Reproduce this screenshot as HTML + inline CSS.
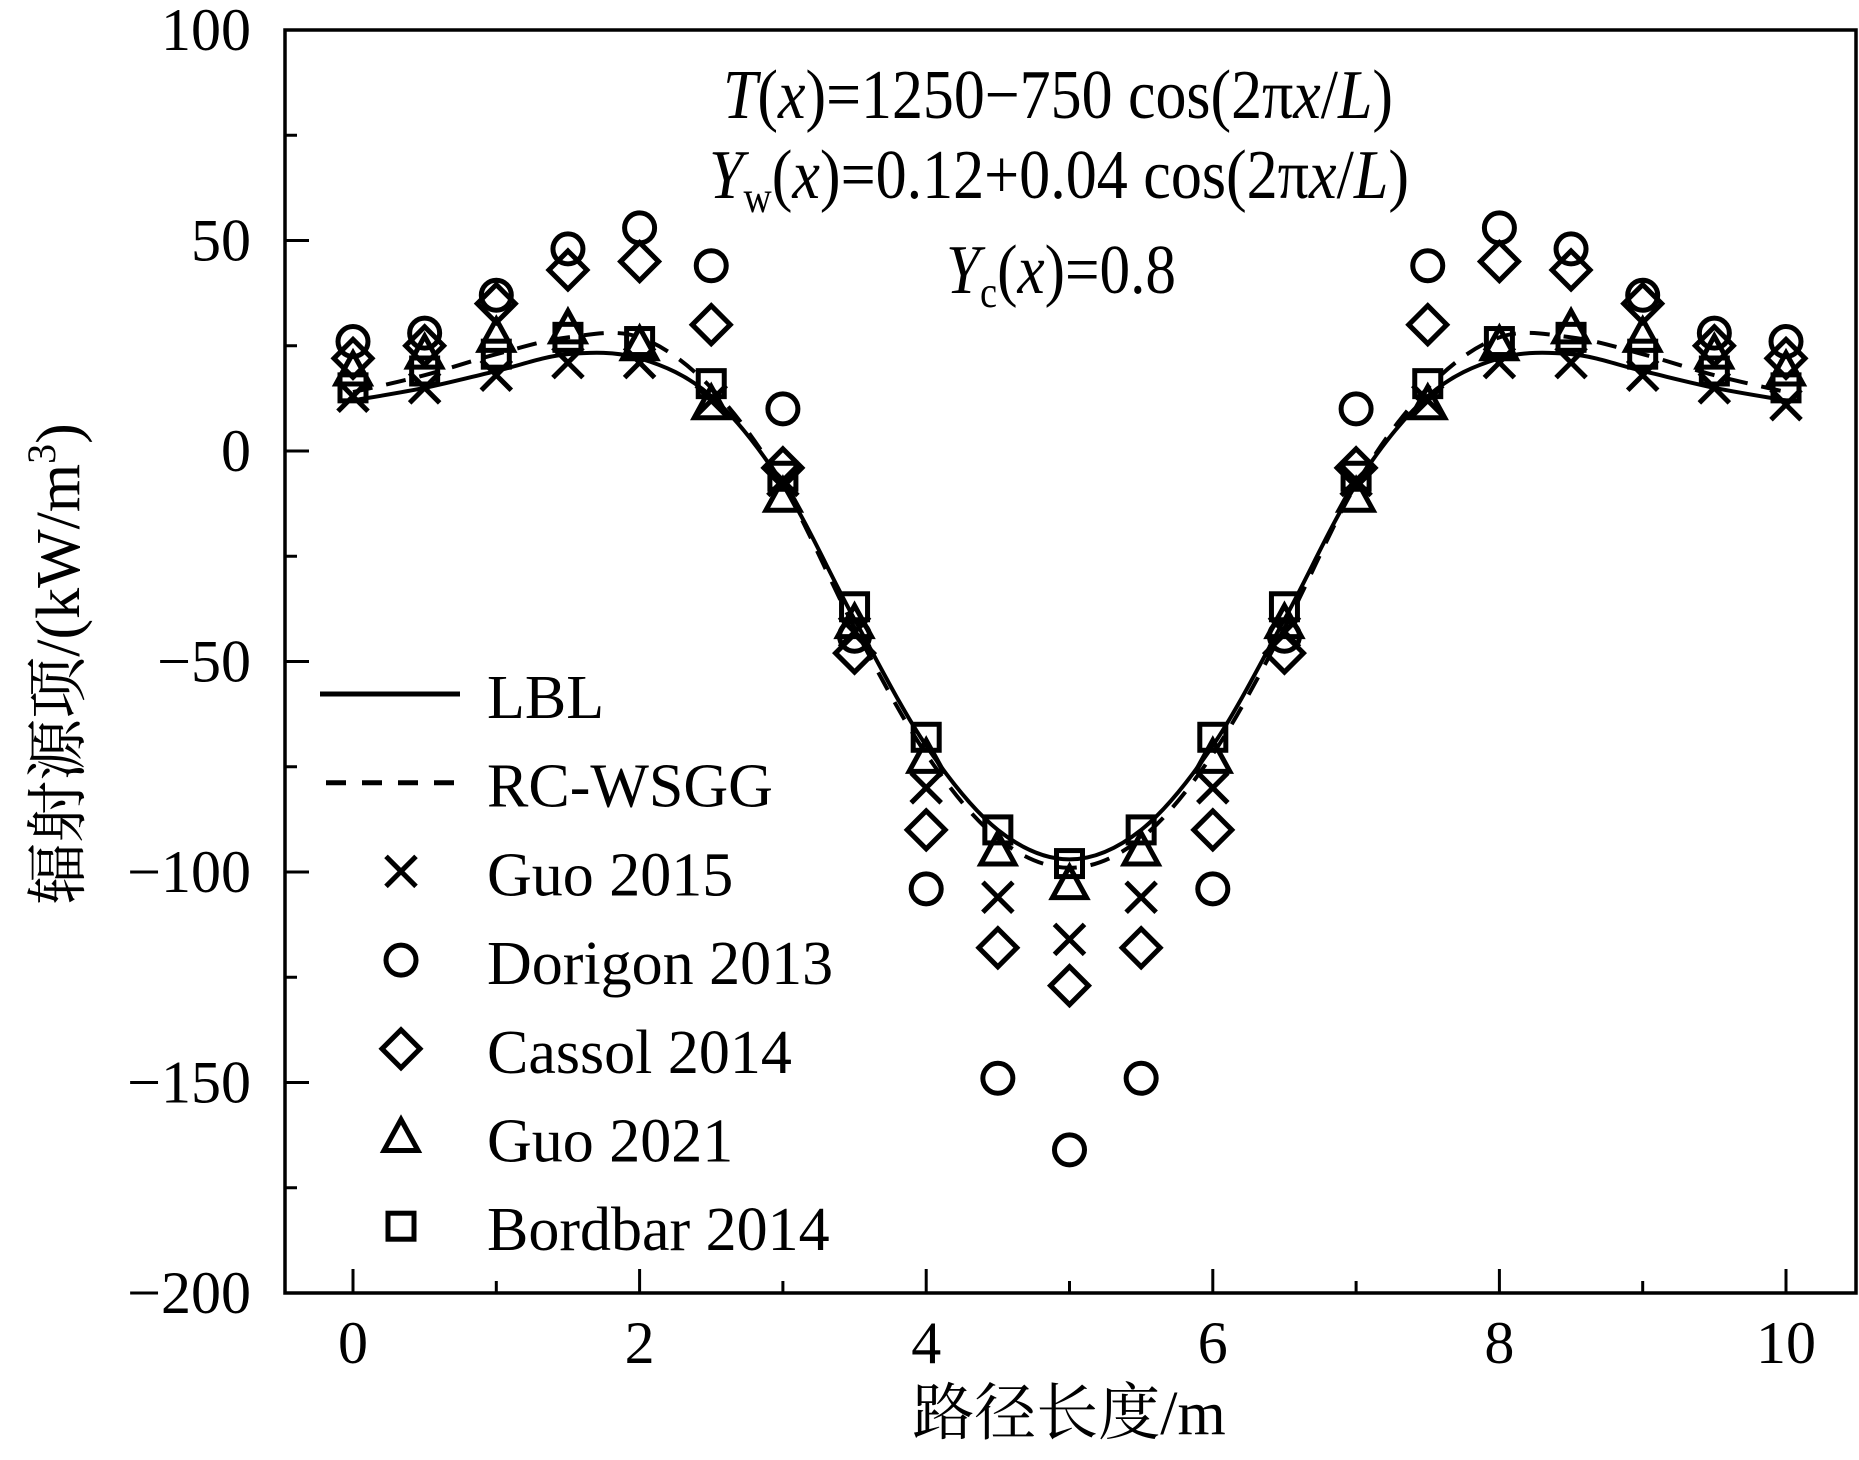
<!DOCTYPE html>
<html><head><meta charset="utf-8"><style>
html,body{margin:0;padding:0;background:#fff;}
svg{display:block;}
text{font-family:"Liberation Serif","Noto Serif CJK SC",serif;fill:#000;}
</style></head><body>
<svg id="chart" width="1859" height="1460" viewBox="0 0 1859 1460" xmlns="http://www.w3.org/2000/svg">
<g id="axes"></g>
<g id="series"></g>
<g>
<text x="723" y="118" font-size="70" textLength="670" lengthAdjust="spacingAndGlyphs"><tspan font-style="italic">T</tspan>(<tspan font-style="italic">x</tspan>)=1250−750 cos(2π<tspan font-style="italic">x</tspan>/<tspan font-style="italic">L</tspan>)</text>
<text x="709" y="198" font-size="70" textLength="700" lengthAdjust="spacingAndGlyphs"><tspan font-style="italic">Y</tspan><tspan font-size="44" dy="14">w</tspan><tspan dy="-14">(</tspan><tspan font-style="italic">x</tspan>)=0.12+0.04 cos(2π<tspan font-style="italic">x</tspan>/<tspan font-style="italic">L</tspan>)</text>
<text x="946" y="293" font-size="70" textLength="230" lengthAdjust="spacingAndGlyphs"><tspan font-style="italic">Y</tspan><tspan font-size="44" dy="14">c</tspan><tspan dy="-14">(</tspan><tspan font-style="italic">x</tspan>)=0.8</text>
</g>
<g id="legend"></g>
</svg>
<script>
const xs = [0,0.5,1,1.5,2,2.5,3,3.5,4,4.5,5,5.5,6,6.5,7,7.5,8,8.5,9,9.5,10];
const lbl = [12,15,19,23,22,13,-8,-40,-70,-90,-97,-90,-70,-40,-8,13,22,23,19,15,12];
const rcwsgg = [14,18,23,27,27,15,-8,-42,-72,-92,-99,-92,-72,-42,-8,15,27,27,23,18,14];
const guo2015 = [13,15,18,21,21,12,-7,-43,-80,-106,-116,-106,-80,-43,-7,12,21,21,18,15,11];
const dorigon2013 = [26,28,37,48,53,44,10,-44,-104,-149,-166,-149,-104,-44,10,44,53,48,37,28,26];
const cassol2014 = [22,25,35,43,45,30,-4,-48,-90,-118,-127,-118,-90,-48,-4,30,45,43,35,25,22];
const guo2021 = [19,23,27,29,25,11,-11,-41,-73,-95,-103,-95,-73,-41,-11,11,25,29,27,23,19];
const bordbar2014 = [15,19,23,27,26,16,-6,-37,-68,-90,-98,-90,-68,-37,-6,16,26,27,23,19,15];
const xTicks = [0,2,4,6,8,10];
const xTickLabels = ["0","2","4","6","8","10"];
const yTicks = [100,50,0,-50,-100,-150,-200];
const yTickLabels = ["100","50","0","−50","−100","−150","−200"];

const NS="http://www.w3.org/2000/svg";
const L=285,R=1856,T=30,B=1293;
const X=v=>353+(v-0)*(1786-353)/10;
const Y=v=>T+(100-v)*(B-T)/300;
function mk(tag,attrs,parent){const e=document.createElementNS(NS,tag);for(const k in attrs)e.setAttribute(k,attrs[k]);parent.appendChild(e);return e;}
const axes=document.getElementById('axes');
const frame=mk('rect',{x:L,y:T,width:R-L,height:B-T,fill:'none',stroke:'#000','stroke-width':3.5},axes);


for(let v=0;v<=10;v+=1){
  const maj=v%2===0;
  const t=mk('line',{x1:X(v),x2:X(v),y1:B,y2:B-(maj?24:12),stroke:'#000','stroke-width':3},axes);
  
  
}
for(let v=-200;v<=100;v+=25){
  const maj=v%50===0;
  const t=mk('line',{x1:L,x2:L+(maj?24:12),y1:Y(v),y2:Y(v),stroke:'#000','stroke-width':3},axes);
  
  
}
xTicks.forEach((v,i)=>{
  const t=mk('text',{x:X(v),y:1363,'font-size':60,'text-anchor':'middle'},axes);
  t.textContent=xTickLabels[i];
  
  
});
yTicks.forEach((v,i)=>{
  const t=mk('text',{x:251,y:Y(v)+20,'font-size':60,'text-anchor':'end'},axes);
  t.textContent=yTickLabels[i];
  
  
});
const xt=mk('text',{x:1069,y:1434,'font-size':62,'text-anchor':'middle'},axes);
xt.textContent='路径长度/m';


const yt=mk('text',{x:0,y:0,'font-size':62,'text-anchor':'middle',transform:'translate(79,664) rotate(-90)'},axes);
yt.innerHTML='辐射源项/(kW/m<tspan font-size="40" dy="-24">3</tspan><tspan dy="24">)</tspan>';



const ser=document.getElementById('series');
function smooth(vals){
  const p=vals.map((v,i)=>[X(xs[i]),Y(v)]);let d='M'+p[0][0]+' '+p[0][1];
  for(let i=0;i<p.length-1;i++){const p0=p[i-1]||p[i],p1=p[i],p2=p[i+1],p3=p[i+2]||p2;
    d+=` C${p1[0]+(p2[0]-p0[0])/6} ${p1[1]+(p2[1]-p0[1])/6} ${p2[0]-(p3[0]-p1[0])/6} ${p2[1]-(p3[1]-p1[1])/6} ${p2[0]} ${p2[1]}`;}
  return d;}
const lbll=mk('path',{d:smooth(lbl),fill:'none',stroke:'#000','stroke-width':4},ser);


const rcl=mk('path',{d:smooth(rcwsgg),fill:'none',stroke:'#000','stroke-width':4,'stroke-dasharray':'20 14'},ser);



function marker(type,cx,cy,g){
  const s={fill:'none',stroke:'#000','stroke-width':5};
  let e;
  if(type==='x'){e=mk('path',Object.assign({d:`M${cx-15} ${cy-15}L${cx+15} ${cy+15}M${cx-15} ${cy+15}L${cx+15} ${cy-15}`},s),g);}
  else if(type==='o'){e=mk('circle',Object.assign({cx:cx,cy:cy,r:15},s),g);}
  else if(type==='d'){e=mk('path',Object.assign({d:`M${cx} ${cy-19}L${cx+19} ${cy}L${cx} ${cy+19}L${cx-19} ${cy}Z`},s),g);}
  else if(type==='t'){e=mk('path',Object.assign({d:`M${cx} ${cy-18}L${cx+17} ${cy+13}L${cx-17} ${cy+13}Z`},s),g);}
  else {e=mk('rect',Object.assign({x:cx-13,y:cy-13,width:26,height:26,fill:'#fff'},s),g);}
  return e;
}
const scatter=[['dorigon-2013',dorigon2013,'o'],['cassol-2014',cassol2014,'d'],['guo-2015',guo2015,'x'],['guo-2021',guo2021,'t'],['bordbar-2014',bordbar2014,'s']];
scatter.forEach(([name,vals,type])=>{
  const g=mk('g',{},ser);
  
  
  vals.forEach((v,i)=>{
    const m=marker(type,X(xs[i]),Y(v),g);
    
    
  });
});

const leg=document.getElementById('legend');
const items=[['LBL','line'],['RC-WSGG','dash'],['Guo 2015','x'],['Dorigon 2013','o'],['Cassol 2014','d'],['Guo 2021','t'],['Bordbar 2014','s']];
items.forEach(([label,type],i)=>{
  const base=718+i*88.7;const cy=base-24;
  const g=mk('g',{},leg);
  
  
  if(type==='line'){mk('line',{x1:320,x2:460,y1:cy,y2:cy,stroke:'#000','stroke-width':5},g);}
  else if(type==='dash'){mk('line',{x1:326,x2:460,y1:cy,y2:cy,stroke:'#000','stroke-width':5,'stroke-dasharray':'20 16'},g);}
  else marker(type,401,cy,g);
  const t=mk('text',{x:487,y:base,'font-size':62},g);
  t.textContent=label;
});
</script>
</body></html>
